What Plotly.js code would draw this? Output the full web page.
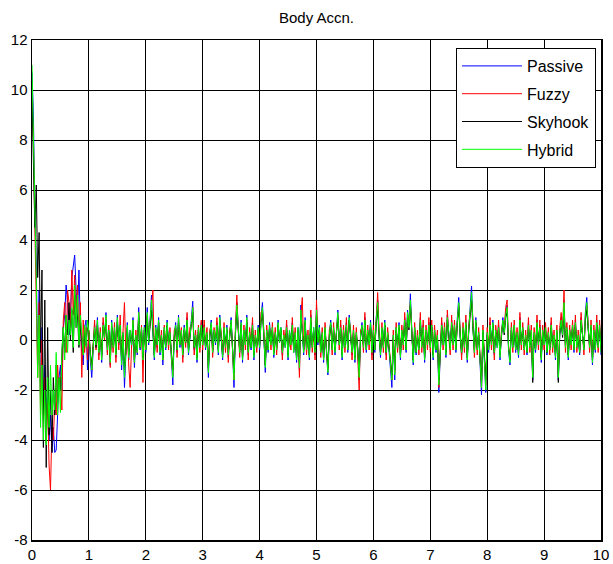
<!DOCTYPE html>
<html>
<head>
<meta charset="utf-8">
<script src="https://cdn.plot.ly/plotly-3.0.1.min.js"></script>
<style>html,body{margin:0;padding:0;background:#fff}#chart{width:613px;height:564px}</style>
</head>
<body>
<div id="chart"></div>
<script>
// Body acceleration samples, every 0.025 s from 0 to 10 s (401 samples per series)
const seriesNames = ["Passive", "Fuzzy", "Skyhook", "Hybrid"];
const tStart = 0, tEnd = 10;

const passive = [
10.7,9.0,5.0,3.0,-1.0,2.0,-2.5,0.5,-3.0,-1.0,-3.5,-2.0,-4.0,-3.0,-4.5,-3.5,-4.5,-4.4,-3.0,-1.5,-1.0,-2.0,0.5,1.0,2.2,1.5,0.2,1.0,2.5,3.0,3.4,2.0,1.0,2.8,0.5,-0.5,-1.0,0.5,0.8,-1.2,
0.2,-0.8,-1.5,-0.4,0.6,-0.2,0.9,-0.6,0.3,-0.9,0.7,0.1,1.1,-0.5,0.4,-1.0,0.8,-0.3,0.5,-0.7,1.0,-0.2,0.6,-1.2,0.3,-1.9,-0.4,0.7,-0.8,0.4,-0.3,0.9,-1.1,0.2,-0.6,1.3,-0.4,0.5,-0.9,0.6,
-0.5,1.3,-0.2,0.8,1.8,0.4,-0.8,0.6,-0.3,0.9,-0.6,0.2,-1.0,0.5,-0.4,0.8,-0.2,0.3,-0.9,-1.8,0.2,0.7,-0.5,1.0,-0.3,0.4,-0.7,0.6,-0.1,0.9,-0.6,0.3,0.8,1.55,-0.4,0.2,-0.9,0.5,-0.3,0.7,
-0.2,0.6,-0.4,0.3,-1.5,0.2,0.8,-0.5,0.4,-0.2,0.7,-0.6,1.0,0.1,-0.8,0.5,-0.3,0.6,-0.7,0.2,0.9,-0.4,-1.9,0.3,1.5,0.6,-0.5,0.8,-0.9,0.4,-0.2,1.0,-0.6,0.3,-0.4,0.7,-0.8,0.2,-0.3,0.6,
-0.4,0.9,1.5,0.2,-1.3,0.4,-0.5,0.7,-0.2,0.5,-0.7,0.3,-0.4,0.8,-0.1,0.5,-0.6,0.2,-0.3,0.6,-0.8,0.4,-0.2,0.7,-0.5,0.3,-0.9,0.5,-1.2,1.4,0.3,-0.6,0.9,-0.4,0.2,-0.8,1.0,-0.3,0.5,-0.6,
1.3,-0.2,0.6,-0.5,0.3,-0.9,0.5,-0.3,-1.4,0.2,0.8,-0.4,0.5,-0.6,0.3,1.2,-0.2,0.6,-0.8,0.4,-0.3,0.7,-0.5,1.0,0.2,-0.6,0.4,-0.9,0.3,-0.4,-1.6,0.2,0.7,-0.3,0.9,-0.5,0.4,-0.2,0.8,-0.6,
0.4,-0.5,0.9,1.6,0.2,-0.7,0.5,-0.3,0.8,-0.6,0.3,-0.4,-1.2,-1.9,0.2,-1.6,0.5,-0.3,0.7,-0.8,0.4,-0.2,0.9,-0.5,1.2,0.6,1.85,0.3,-1.0,0.5,-0.6,0.2,-0.4,0.9,-0.3,0.6,-0.9,0.4,-0.2,0.7,
-0.3,0.6,-0.8,0.4,-0.5,0.2,-2.1,-0.6,0.7,-0.2,0.5,-0.7,1.0,0.3,-0.4,0.8,-0.2,0.6,-0.5,0.9,1.7,0.2,-0.6,0.5,-0.3,0.8,-0.9,0.4,1.3,2.16,0.6,-0.5,0.9,-0.4,0.3,-1.2,-2.2,0.4,-0.7,-2.1,
0.3,-0.5,0.7,-0.2,0.8,-0.6,0.4,-0.3,0.6,-0.8,0.2,0.9,0.3,1.1,1.4,-0.4,-1.0,0.5,-0.3,0.6,-0.5,0.3,-0.7,0.9,-0.2,0.5,-0.4,0.2,-0.6,0.7,-0.3,0.4,-1.6,0.3,-0.5,0.8,-0.2,0.6,-0.9,0.4,
-0.2,0.5,-0.6,0.3,-0.4,0.7,-0.3,0.2,-0.8,0.4,-1.6,0.3,0.9,0.2,1.6,-0.3,0.5,-0.8,0.4,-0.2,0.6,-0.5,0.8,-0.3,0.2,-0.6,0.9,0.3,-0.4,1.1,1.7,0.5,-0.3,0.6,-1.0,0.4,-0.5,0.8,-0.3,0.6,-0.6
];

const fuzzy = [
9.6,8.0,4.5,2.0,-1.5,1.5,-3.0,0.0,-3.5,-1.5,-4.0,-2.5,-5.0,-6.0,-3.5,-4.0,-2.5,-3.0,-1.0,-2.0,-1.5,-2.8,0.8,1.5,-0.5,2.0,1.5,0.5,2.8,1.0,2.6,1.0,2.2,0.0,1.5,-1.5,0.8,-0.5,0.5,-0.8,
0.4,-0.6,-1.2,-0.2,0.8,-0.4,0.7,-0.8,0.5,-0.7,0.9,0.0,0.9,-0.6,0.6,-1.1,0.6,-0.5,0.7,-0.9,0.8,-0.4,1.0,-0.8,0.5,1.5,-0.6,0.4,-1.0,-1.9,-0.2,0.8,-0.9,0.4,-0.5,1.1,-0.3,0.6,-1.7,0.5,
-0.3,1.0,0.0,0.6,1.4,2.0,-0.6,0.4,-0.5,0.7,-0.4,0.4,-0.8,0.6,-0.2,0.6,-0.4,0.5,-0.7,-1.4,0.4,0.5,-0.7,0.8,-0.1,0.5,-0.9,0.4,-0.3,1.1,-0.4,0.5,0.6,1.3,-0.6,0.4,-0.7,0.6,-0.5,0.8,
-0.4,0.8,-0.2,0.5,-1.2,0.4,0.6,-0.7,0.5,0.0,0.9,-0.4,0.8,0.3,-0.6,0.7,-0.5,0.4,-0.9,0.4,0.7,-0.6,-1.6,0.5,1.8,0.4,-0.7,0.6,-0.7,0.6,-0.4,0.8,-0.8,0.5,-0.2,0.9,-0.6,0.4,-0.5,0.4,
-0.2,1.1,1.2,0.4,-1.0,0.6,-0.3,0.5,-0.4,0.7,-0.5,0.5,-0.6,0.6,0.1,0.3,-0.8,0.4,-0.1,0.8,-0.6,0.2,-0.4,0.9,-0.3,0.5,-0.7,0.3,-1.5,1.0,1.7,-0.4,0.7,-0.6,0.4,-0.6,1.2,-0.5,0.3,-0.8,
1.6,0.0,0.4,-0.7,0.5,-0.7,0.7,-0.5,-1.2,0.4,0.6,-0.6,0.7,-0.4,0.5,1.0,-0.4,0.8,-0.6,0.6,-0.5,0.9,-0.3,0.8,0.4,-0.8,0.6,-0.7,0.5,-0.6,-2.0,0.4,0.5,-0.5,1.1,-0.3,0.6,-0.4,0.6,-0.8,
0.6,-0.3,0.7,1.9,0.4,-0.5,0.7,-0.5,0.6,-0.8,0.5,-0.2,-1.0,-1.6,0.4,-1.3,0.7,-0.5,0.5,-0.6,0.6,-0.4,1.1,-0.3,1.0,0.8,1.5,0.5,-0.8,0.7,-0.4,0.4,-0.6,1.1,-0.5,0.8,-0.7,0.6,-0.4,0.9,
-0.5,0.8,-0.6,0.6,-0.3,0.4,-1.9,-0.4,0.9,-0.4,0.7,-0.5,1.2,0.1,-0.6,1.0,-0.4,0.8,-0.3,0.7,1.4,0.4,-0.8,0.7,-0.5,1.0,-0.7,0.6,1.1,1.6,0.8,-0.7,0.7,-0.6,0.5,-1.0,-1.9,0.6,-0.5,-1.8,
0.5,-0.3,0.9,-0.4,0.6,-0.8,0.6,-0.1,0.8,-0.6,0.4,0.7,0.5,1.3,1.6,-0.2,-0.8,0.7,-0.5,0.8,-0.3,0.5,-0.5,1.1,-0.4,0.7,-0.6,0.4,-0.4,0.9,-0.5,0.6,-1.4,0.5,-0.3,1.0,-0.4,0.8,-0.7,0.6,
-0.4,0.7,-0.4,0.5,-0.6,0.9,-0.5,0.4,-0.6,0.6,-1.4,0.5,1.1,0.4,2.0,-0.5,0.7,-0.6,0.6,-0.4,0.8,-0.3,1.0,-0.5,0.4,-0.4,1.1,0.1,-0.6,0.9,1.4,0.7,-0.5,0.8,-0.8,0.6,-0.3,1.0,-0.5,0.8,-0.4
];

const skyhook = [
9.7,7.0,4.5,6.2,2.5,4.3,-0.5,2.8,-4.3,1.6,-5.1,0.5,-3.8,-2.0,-4.5,-1.5,-3.0,-1.0,-2.5,-1.5,-2.0,-0.5,0.5,-0.5,1.0,0.2,1.5,0.0,1.2,-0.5,1.8,0.5,1.0,-0.3,0.8,0.0,-0.5,0.3,-0.2,0.5,
0.3,-0.5,-1.0,-0.2,0.4,-0.3,0.6,-0.4,0.2,-0.6,0.5,0.2,0.8,-0.3,0.3,-0.7,0.5,-0.2,0.4,-0.5,0.7,-0.1,0.5,-0.8,0.2,-1.2,-0.3,0.5,-0.6,0.3,-0.2,0.6,-0.8,0.1,-0.4,0.9,-0.3,0.4,-0.7,0.4,
-0.4,0.9,-0.1,0.6,1.2,0.3,-0.6,0.4,-0.2,0.7,-0.4,0.2,-0.7,0.4,-0.3,0.6,-0.1,0.2,-0.6,-1.2,0.1,0.5,-0.4,0.7,-0.2,0.3,-0.5,0.4,-0.1,0.7,-0.4,0.2,0.6,1.1,-0.3,0.2,-0.7,0.4,-0.2,0.5,
-0.1,0.4,-0.3,0.2,-1.1,0.1,0.6,-0.4,0.3,-0.1,0.5,-0.4,0.7,0.1,-0.6,0.4,-0.2,0.4,-0.5,0.1,0.7,-0.3,-1.3,0.2,1.1,0.4,-0.4,0.6,-0.7,0.3,-0.1,0.7,-0.4,0.2,-0.3,0.5,-0.6,0.1,-0.2,0.4,
-0.3,0.7,1.1,0.1,-1.0,0.3,-0.4,0.5,-0.1,0.4,-0.5,0.2,-0.3,0.6,-0.1,0.4,-0.4,0.1,-0.2,0.4,-0.6,0.3,-0.1,0.5,-0.4,0.2,-0.7,0.4,-0.9,1.0,0.2,-0.4,0.7,-0.3,0.1,-0.6,0.7,-0.2,0.4,-0.4,
1.0,-0.1,0.4,-0.4,0.2,-0.7,0.4,-0.2,-1.1,0.1,0.6,-0.3,0.4,-0.4,0.2,0.9,-0.1,0.4,-0.6,0.3,-0.2,0.5,-0.4,0.8,0.1,-0.4,0.3,-0.7,0.2,-0.3,-1.2,0.1,0.5,-0.2,0.7,-0.4,0.3,-0.1,0.6,-0.4,
0.3,-0.4,0.7,1.2,0.1,-0.5,0.4,-0.2,0.6,-0.5,0.2,-0.3,-0.9,-1.4,0.1,-1.2,0.4,-0.2,0.5,-0.6,0.3,-0.1,0.7,-0.4,0.9,0.4,1.4,0.2,-0.8,0.4,-0.5,0.1,-0.3,0.7,-0.2,0.4,-0.7,0.3,-0.1,0.5,
-0.2,0.5,-0.6,0.3,-0.4,0.1,-1.6,-0.5,0.5,-0.1,0.4,-0.5,0.8,0.2,-0.3,0.6,-0.1,0.5,-0.4,0.7,1.3,0.1,-0.5,0.4,-0.2,0.6,-0.7,0.3,1.0,1.6,0.4,-0.4,0.7,-0.3,0.2,-0.9,-1.7,0.3,-0.5,-1.6,
0.2,-0.4,0.5,-0.1,0.6,-0.5,0.3,-0.2,0.5,-0.6,0.1,0.7,0.2,0.9,1.1,-0.3,-0.8,0.4,-0.2,0.5,-0.4,0.2,-0.6,0.7,-0.1,0.4,-0.3,0.1,-0.5,0.5,-0.2,0.3,-1.7,0.2,-0.4,0.6,-0.1,0.5,-0.7,0.3,
-0.1,0.4,-0.5,0.2,-0.3,0.5,-0.2,0.1,-0.6,0.3,-1.7,0.2,0.7,0.1,1.2,-0.2,0.4,-0.6,0.3,-0.1,0.5,-0.4,0.6,-0.2,0.1,-0.5,0.7,0.2,-0.3,0.8,1.2,0.4,-0.2,0.5,-0.8,0.3,-0.4,0.6,-0.2,0.5,-0.3
];

const hybrid = [
11.0,8.5,6.0,2.5,-1.5,1.0,-3.5,-1.0,-4.0,-2.0,-4.2,-1.5,-3.5,-1.0,-3.0,-2.0,-2.8,-0.5,-3.0,-1.5,-2.9,-0.5,0.5,-0.8,1.0,-0.5,0.8,0.2,1.3,-0.3,2.2,0.5,1.8,-0.2,1.0,0.3,-0.6,0.6,-0.3,0.8,
0.3,-0.6,-1.2,-0.3,0.5,-0.2,0.8,-0.5,0.3,-0.8,0.6,0.1,1.0,-0.4,0.4,-0.9,0.7,-0.3,0.5,-0.6,0.9,-0.1,0.6,-1.0,0.3,-1.5,-0.3,0.6,-0.7,0.4,-0.2,0.8,-0.9,0.2,-0.5,1.1,-0.3,0.5,-0.8,0.5,
-0.4,1.1,-0.1,0.7,1.6,0.4,-0.7,0.5,-0.2,0.8,-0.5,0.2,-0.8,0.5,-0.3,0.7,-0.2,0.3,-0.8,-1.5,0.2,0.6,-0.4,0.9,-0.2,0.4,-0.6,0.5,-0.1,0.8,-0.5,0.3,0.7,1.3,-0.3,0.2,-0.8,0.5,-0.3,0.6,
-0.2,0.5,-0.3,0.3,-1.3,0.2,0.7,-0.5,0.4,-0.1,0.6,-0.5,0.9,0.1,-0.7,0.5,-0.3,0.5,-0.6,0.2,0.8,-0.4,-1.6,0.3,1.4,0.5,-0.5,0.7,-0.8,0.4,-0.2,0.9,-0.5,0.3,-0.3,0.6,-0.7,0.2,-0.3,0.5,
-0.3,0.8,1.3,0.2,-1.1,0.4,-0.4,0.6,-0.2,0.5,-0.6,0.3,-0.4,0.7,-0.1,0.5,-0.5,0.2,-0.3,0.5,-0.7,0.4,-0.2,0.6,-0.5,0.3,-0.8,0.5,-1.1,1.2,0.3,-0.5,0.8,-0.4,0.2,-0.7,0.9,-0.3,0.5,-0.5,
1.2,-0.1,0.5,-0.5,0.3,-0.8,0.5,-0.3,-1.3,0.2,0.7,-0.4,0.5,-0.5,0.3,1.1,-0.2,0.5,-0.7,0.4,-0.3,0.6,-0.4,0.9,0.2,-0.5,0.4,-0.8,0.3,-0.4,-1.5,0.2,0.6,-0.3,0.8,-0.4,0.4,-0.2,0.7,-0.5,
0.4,-0.4,0.8,1.5,0.2,-0.6,0.5,-0.3,0.7,-0.5,0.3,-0.3,-1.1,-1.6,0.2,-1.4,0.5,-0.3,0.6,-0.7,0.4,-0.2,0.8,-0.4,1.1,0.5,1.6,0.3,-0.9,0.5,-0.5,0.2,-0.4,0.8,-0.3,0.5,-0.8,0.4,-0.2,0.6,
-0.3,0.6,-0.7,0.4,-0.4,0.2,-1.8,-0.5,0.6,-0.2,0.5,-0.6,0.9,0.3,-0.4,0.7,-0.2,0.6,-0.4,0.8,1.5,0.2,-0.5,0.5,-0.3,0.7,-0.8,0.4,1.2,1.9,0.5,-0.5,0.8,-0.4,0.3,-1.1,-1.9,0.4,-0.6,-2.0,
0.3,-0.4,0.6,-0.2,0.7,-0.5,0.4,-0.3,0.5,-0.7,0.2,0.8,0.3,1.0,1.3,-0.3,-0.9,0.5,-0.3,0.6,-0.4,0.3,-0.6,0.8,-0.2,0.5,-0.4,0.2,-0.5,0.6,-0.3,0.4,-1.5,0.3,-0.4,0.7,-0.2,0.5,-0.8,0.4,
-0.2,0.5,-0.5,0.3,-0.4,0.6,-0.3,0.2,-0.7,0.4,-1.5,0.3,0.8,0.2,1.5,-0.3,0.5,-0.7,0.4,-0.2,0.6,-0.4,0.7,-0.3,0.2,-0.5,0.8,0.2,-0.4,1.0,1.5,0.5,-0.3,0.6,-0.9,0.4,-0.4,0.7,-0.3,0.6,-0.5
];

const xTickVals = [0,1,2,3,4,5,6,7,8,9,10];
const yTickVals = [-8,-6,-4,-2,0,2,4,6,8,10,12];

function timeAxis(arr) {
  const n = arr.length;
  return arr.map((_, i) => tStart + i * (tEnd - tStart) / (n - 1));
}

const colors = ["#0000ff", "#ff0000", "#000000", "#00ff00"];
const allSeries = [passive, fuzzy, skyhook, hybrid];

const traces = allSeries.map((ys, k) => ({
  type: "scatter",
  mode: "lines",
  name: seriesNames[k],
  legendgroup: "g" + k,
  x: timeAxis(ys),
  y: ys,
  line: { color: colors[k], width: 1 }
}));

const fam = "Liberation Sans, Arial, sans-serif";

const layout = {
  width: 613,
  height: 564,
  margin: { l: 32, r: 12, t: 40, b: 24, pad: 0 },
  paper_bgcolor: "#fff",
  plot_bgcolor: "#fff",
  font: { family: fam, size: 14, color: "#000" },
  showlegend: true,
  title: {
    text: "Body Accn.",
    font: { family: fam, size: 15, color: "#000" },
    x: 0.5, xref: "paper",
    y: 1 - 18 / 564, yref: "container", yanchor: "middle"
  },
  xaxis: {
    range: [0, 10],
    tickvals: xTickVals,
    ticktext: xTickVals.map(String),
    showgrid: true, gridcolor: "#000", gridwidth: 1,
    zeroline: false,
    showline: true, linecolor: "#000", linewidth: 1.5, mirror: true,
    ticks: "", tickfont: { size: 15 },
    fixedrange: true
  },
  yaxis: {
    range: [-8, 12],
    tickvals: yTickVals,
    ticktext: yTickVals.map(String),
    showgrid: true, gridcolor: "#000", gridwidth: 1,
    zeroline: false,
    showline: true, linecolor: "#000", linewidth: 1.5, mirror: true,
    ticks: "", tickfont: { size: 15 },
    fixedrange: true
  },
  legend: {
    x: (596 - 32) / 569, xanchor: "right",
    y: (540 - 48) / 500, yanchor: "top",
    bgcolor: "#fff", bordercolor: "#000", borderwidth: 1,
    font: { family: fam, size: 16, color: "#000" },
    itemwidth: 60,
    tracegroupgap: 4,
    traceorder: "grouped"
  }
};

Plotly.newPlot("chart", traces, layout, { displayModeBar: false, staticPlot: true });
</script>
</body>
</html>
